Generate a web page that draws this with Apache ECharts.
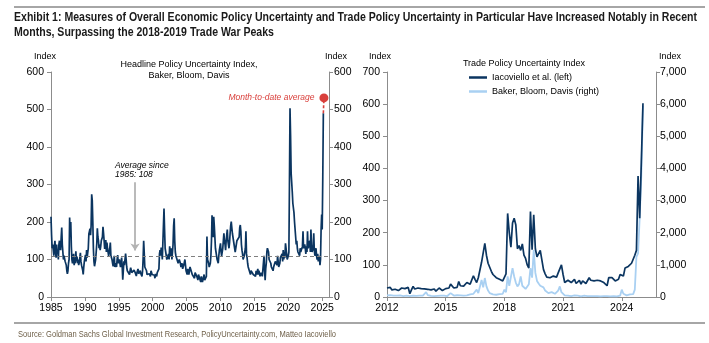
<!DOCTYPE html>
<html><head><meta charset="utf-8">
<script src="https://cdn.jsdelivr.net/npm/echarts@6/dist/echarts.min.js"></script>
<style>html,body{margin:0;padding:0;background:#fff}#c{width:709px;height:343px}</style>
</head><body><div id="c"></div>
<script>
// ---------- DATA ----------
// Headline EPU (Baker, Bloom, Davis), monthly from Jan 1985
const epuStartYear = 1985;
const epuValues = [
214,165,130,140,125,110,135,150,120,105,140,118,
125,100,140,150,135,125,158,185,140,120,100,110,
105,95,100,85,70,62,70,90,100,212,160,200,
135,100,90,95,115,85,100,90,122,95,108,90,
100,85,92,105,118,95,85,90,72,60,80,95,
100,112,95,125,105,118,130,168,175,182,165,190,
274,258,200,130,95,82,80,100,120,142,183,160,
150,130,140,125,135,150,145,160,187,170,150,128,
140,152,120,145,130,125,110,118,130,145,110,105,
100,90,82,95,110,80,85,90,80,100,112,90,
85,100,95,80,90,105,82,46,70,95,85,90,
116,100,80,70,75,65,70,60,70,78,80,65,
70,60,65,72,75,65,60,56,65,70,75,62,
65,60,70,62,58,55,68,100,150,118,80,75,
80,70,60,65,55,58,62,60,55,70,65,60,
55,60,65,58,50,62,60,55,65,70,68,75,
115,125,110,132,120,100,105,95,236,180,130,120,
110,100,95,105,115,100,135,120,110,130,100,105,
140,190,210,150,120,110,105,100,95,90,85,100,
95,90,80,85,90,75,80,85,90,100,85,70,
65,60,75,70,60,55,80,85,70,65,60,55,
60,55,50,65,60,70,55,50,45,60,55,50,
45,40,55,50,40,37,45,60,45,40,50,55,
161,100,95,90,80,75,90,110,150,218,170,160,
214,190,160,130,120,110,100,95,90,110,125,120,
143,120,110,115,130,150,170,150,140,125,150,165,
180,150,140,130,145,170,190,201,185,170,160,150,
145,130,120,125,140,150,155,145,150,160,185,192,
175,140,125,115,100,95,110,105,130,175,115,105,
90,80,75,70,65,60,70,75,65,70,60,55,
60,65,55,70,60,65,75,60,70,65,55,60,
65,60,55,60,50,110,70,45,75,90,120,130,
135,120,100,95,105,90,80,85,75,70,80,85,
80,95,100,90,85,110,95,80,85,90,105,100,
110,115,95,125,100,120,105,143,130,115,100,95,
110,120,300,503,430,330,335,280,250,255,225,200,
180,160,140,150,130,120,115,125,110,130,120,115,
120,135,175,130,125,140,130,115,135,120,175,130,
125,130,150,120,180,140,120,115,130,170,125,110,
120,130,110,100,115,95,90,110,85,100,180,220,
180,320,490
];
const epuAverage = 108;
const epuMonthToDate = 531;
const leftYearTicks = [1985,1990,1995,2000,2005,2010,2015,2020,2025];

// Trade Policy Uncertainty, monthly from Jan 2012
const tpuStartYear = 2012;
const tpuIacoviello = [
28,25,30,22,27,24,26,20,25,28,22,26,
24,30,10,22,33,25,20,28,24,26,22,25,
20,24,26,22,20,25,18,24,28,22,20,24,
26,24,28,40,36,28,30,30,48,35,30,34,
38,45,50,40,45,66,55,45,60,62,108,110,
167,130,105,100,80,70,72,60,58,55,60,50,
55,72,260,200,155,230,245,225,150,160,145,165,
130,120,100,90,266,147,256,150,125,120,145,140,
85,72,62,58,60,63,65,70,62,75,78,100,
70,45,48,52,55,45,50,55,42,48,52,40,
50,55,42,48,60,52,48,50,45,52,48,50,
48,45,50,35,60,55,60,58,50,45,55,70,
70,65,90,92,95,100,105,110,130,145,376,245,
420,603
];
const tpuBakerBloomDavis = [
50,40,60,30,45,35,40,30,50,40,30,45,
40,35,30,50,45,40,35,30,40,60,45,35,
150,60,40,35,45,30,40,35,50,40,30,40,
40,30,50,120,60,45,40,55,35,50,45,40,
60,50,40,80,70,100,90,230,120,150,530,300,
590,330,200,120,100,80,90,70,110,90,80,100,
230,150,640,350,330,900,640,450,330,400,640,350,
320,250,300,400,900,600,1460,750,500,420,350,300,
300,200,150,120,100,150,130,100,120,200,330,150,
100,50,60,40,50,30,40,50,30,40,30,20,
30,40,20,30,50,30,20,30,40,25,30,20,
20,30,40,25,30,20,40,30,25,20,30,40,
230,100,60,50,70,80,60,90,230,1250,1360,2480,
3800,5950
];
const rightYearTicks = [2012,2015,2018,2021,2024];
const seriesNames = ['Iacoviello et al. (left)', 'Baker, Bloom, Davis (right)'];

// ---------- BUILD ----------
const toMonthly = (start, arr) => arr.map((v, i) => [start + i / 12, v]);
const epuData = toMonthly(epuStartYear, epuValues);
const lastEpu = epuData[epuData.length - 1];
const mtdData = [lastEpu, [lastEpu[0] + 1 / 12, epuMonthToDate]];
const iacData = toMonthly(tpuStartYear, tpuIacoviello);
const bbdData = toMonthly(tpuStartYear, tpuBakerBloomDavis);

const FONT = '"Liberation Sans", Arial, sans-serif';
const AX = '#8c8c8c';
const NAVY = '#0b3560';
const LIGHT = '#a9d0f2';
const RED = '#d9403c';

const mctx = document.createElement('canvas').getContext('2d');
function measure(text, font) { mctx.font = font; return mctx.measureText(text).width; }

function xAxisCfg(grid, min, max, interval, ticks) {
  return {
    gridIndex: grid, type: 'value', min, max, interval,
    axisLine: {show: true, onZero: false, lineStyle: {color: AX, width: 1}},
    axisTick: {show: true, length: 4, customValues: ticks, lineStyle: {color: AX}},
    axisLabel: {customValues: ticks, margin: 6, color: '#000', fontSize: 10.5, fontFamily: FONT,
      formatter: v => String(v)},
    splitLine: {show: false}
  };
}
function yAxisCfg(grid, pos, max, interval, margin, fmt) {
  return {
    gridIndex: grid, type: 'value', position: pos, min: 0, max, interval,
    axisLine: {show: true, onZero: false, lineStyle: {color: AX, width: 1}},
    axisTick: {show: true, length: 4, lineStyle: {color: AX}},
    axisLabel: {margin, color: '#000', fontSize: 10.5, fontFamily: FONT, formatter: fmt},
    splitLine: {show: false}
  };
}
const comma = v => v.toLocaleString('en-US');
const plain = v => String(v);

const chart = echarts.init(document.getElementById('c'), null, {renderer: 'canvas'});
const txt = (text, x, y, font, fill, align) => ({
  type: 'text', silent: true,
  style: {text, x, y, font, fill: fill || '#000', align: align || 'left', verticalAlign: 'middle'}
});
// narrow (condensed) text: horizontally scaled to a target width
const narrowTxt = (text, x, y, font, fill, targetWidth) => ({
  type: 'text', silent: true, x, y, scaleX: targetWidth / measure(text, font), scaleY: 1,
  style: {text, x: 0, y: 0, font, fill, align: 'left', verticalAlign: 'middle'}
});

const title1 = 'Exhibit 1: Measures of Overall Economic Policy Uncertainty and Trade Policy Uncertainty in Particular Have Increased Notably in Recent';
const title2 = 'Months, Surpassing the 2018-2019 Trade War Peaks';
const titleFont = 'bold 12.5px ' + FONT;
const t1w = 683;
const t2w = t1w * measure(title2, titleFont) / measure(title1, titleFont);
const sourceText = 'Source: Goldman Sachs Global Investment Research, PolicyUncertainty.com, Matteo Iacoviello';

chart.setOption({
  animation: false,
  backgroundColor: '#fff',
  grid: [
    {left: 51, right: 380, top: 72, bottom: 46},
    {left: 387, right: 53, top: 72, bottom: 46}
  ],
  xAxis: [
    xAxisCfg(0, 1985, 2026, 5, leftYearTicks),
    xAxisCfg(1, 2012, 2025.75, 3, rightYearTicks)
  ],
  yAxis: [
    yAxisCfg(0, 'left', 600, 100, 7, plain),
    yAxisCfg(0, 'right', 600, 100, 5, plain),
    yAxisCfg(1, 'left', 700, 100, 7, plain),
    yAxisCfg(1, 'right', 7000, 1000, 4, comma)
  ],
  legend: {
    data: seriesNames, orient: 'vertical', left: 469, top: 73, padding: 0,
    itemWidth: 18, itemHeight: 2.5, itemGap: 5, icon: 'rect', selectedMode: false,
    textStyle: {fontSize: 9, color: '#000', fontFamily: FONT}
  },
  series: [
    {
      name: 'EPU', type: 'line', xAxisIndex: 0, yAxisIndex: 0, data: epuData,
      showSymbol: false, symbol: 'none', z: 3,
      lineStyle: {color: NAVY, width: 1.7}, itemStyle: {color: NAVY},
      markLine: {
        silent: true, animation: false, symbol: ['none', 'none'], label: {show: false},
        data: [
          {yAxis: epuAverage, lineStyle: {type: [4, 3], color: '#7f7f7f', width: 1}},
          [
            {coord: [1997.4, 306], symbol: 'none', lineStyle: {color: '#b3b3b3', width: 1.8, type: 'solid'}},
            {coord: [1997.4, 124], symbol: 'arrow', symbolSize: [7, 7]}
          ]
        ]
      }
    },
    {
      name: 'MTD', type: 'line', xAxisIndex: 0, yAxisIndex: 0, data: mtdData, z: 4,
      symbol: 'circle', symbolSize: (v, p) => p.dataIndex === 1 ? 9 : 0,
      showSymbol: true,
      lineStyle: {color: RED, width: 1.6, type: [3, 2]}, itemStyle: {color: RED},
      label: {
        show: true, position: 'left', distance: 5,
        formatter: p => p.dataIndex === 1 ? 'Month-to-date average' : '',
        color: RED, fontStyle: 'italic', fontSize: 8.5, fontFamily: FONT
      }
    },
    {
      name: seriesNames[1], type: 'line', xAxisIndex: 1, yAxisIndex: 3, data: bbdData,
      showSymbol: false, symbol: 'none', z: 2,
      lineStyle: {color: LIGHT, width: 1.8}, itemStyle: {color: LIGHT}
    },
    {
      name: seriesNames[0], type: 'line', xAxisIndex: 1, yAxisIndex: 2, data: iacData,
      showSymbol: false, symbol: 'none', z: 3,
      lineStyle: {color: NAVY, width: 1.7}, itemStyle: {color: NAVY}
    }
  ],
  graphic: [
    {type: 'rect', silent: true, shape: {x: 14, y: 6, width: 691, height: 2}, style: {fill: '#a6a6a6'}},
    narrowTxt(title1, 14, 17.5, titleFont, '#1a1a1a', t1w),
    narrowTxt(title2, 14, 33, titleFont, '#1a1a1a', t2w),
    txt('Index', 45, 57, '9px ' + FONT, '#000', 'center'),
    txt('Index', 336, 57, '9px ' + FONT, '#000', 'center'),
    txt('Index', 380, 57, '9px ' + FONT, '#000', 'center'),
    txt('Index', 670, 57, '9px ' + FONT, '#000', 'center'),
    txt('Headline Policy Uncertainty Index,', 189, 65, '9px ' + FONT, '#000', 'center'),
    txt('Baker, Bloom, Davis', 189, 75.5, '9px ' + FONT, '#000', 'center'),
    txt('Trade Policy Uncertainty Index', 524, 63.5, '9px ' + FONT, '#000', 'center'),
    txt('Average since', 115, 165.5, 'italic 8.5px ' + FONT, '#000'),
    txt('1985: 108', 115, 174.5, 'italic 8.5px ' + FONT, '#000'),
    {type: 'rect', silent: true, shape: {x: 14, y: 322, width: 691, height: 2}, style: {fill: '#a6a6a6'}},
    narrowTxt(sourceText, 18, 335, '9px ' + FONT, '#6e5f48', 318)
  ]
});
</script>
</body></html>
